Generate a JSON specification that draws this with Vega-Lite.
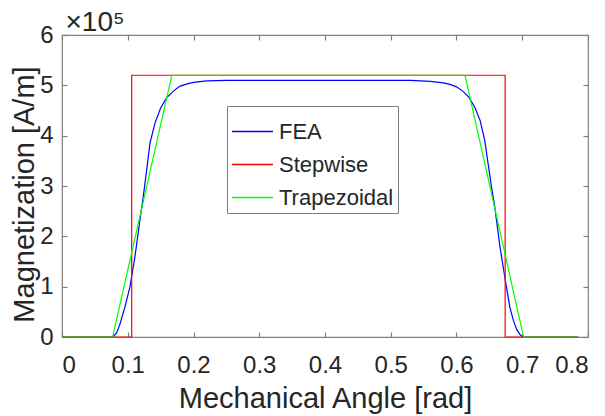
{
  "$schema": "https://vega.github.io/schema/vega-lite/v6.json",
  "width": 526,
  "height": 302,
  "autosize": {"type": "none"},
  "padding": {"left": 62, "top": 35, "right": 17, "bottom": 79},
  "background": "white",
  "config": {
    "view": {"stroke": "#808080", "strokeWidth": 1.2},
    "font": "Liberation Sans",
    "axis": {
      "grid": false,
      "domain": false,
      "labelFont": "Liberation Sans",
      "labelFontSize": 24,
      "labelColor": "#262626",
      "titleFont": "Liberation Sans",
      "titleFontSize": 29,
      "titleFontWeight": "normal",
      "titleColor": "#262626",
      "tickColor": "#808080",
      "tickSize": -5,
      "tickWidth": 1.2
    },
    "legend": {
      "labelFont": "Liberation Sans",
      "labelFontSize": 22,
      "labelColor": "#262626"
    }
  },
  "data": {
    "values": [
      {"series": "FEA", "order": 1, "angle": 0, "magnetization": 0},
      {"series": "FEA", "order": 2, "angle": 0.075, "magnetization": 0},
      {"series": "FEA", "order": 3, "angle": 0.078, "magnetization": 1000},
      {"series": "FEA", "order": 4, "angle": 0.083, "magnetization": 8000},
      {"series": "FEA", "order": 5, "angle": 0.088, "magnetization": 25000},
      {"series": "FEA", "order": 6, "angle": 0.0958, "magnetization": 60000},
      {"series": "FEA", "order": 7, "angle": 0.1034, "magnetization": 100000},
      {"series": "FEA", "order": 8, "angle": 0.111, "magnetization": 160000},
      {"series": "FEA", "order": 9, "angle": 0.1186, "magnetization": 233000},
      {"series": "FEA", "order": 10, "angle": 0.1237, "magnetization": 280000},
      {"series": "FEA", "order": 11, "angle": 0.1288, "magnetization": 332000},
      {"series": "FEA", "order": 12, "angle": 0.1338, "magnetization": 385000},
      {"series": "FEA", "order": 13, "angle": 0.1414, "magnetization": 425000},
      {"series": "FEA", "order": 14, "angle": 0.15, "magnetization": 455000},
      {"series": "FEA", "order": 15, "angle": 0.159, "magnetization": 475000},
      {"series": "FEA", "order": 16, "angle": 0.169, "magnetization": 488000},
      {"series": "FEA", "order": 17, "angle": 0.179, "magnetization": 498000},
      {"series": "FEA", "order": 18, "angle": 0.19, "magnetization": 503000},
      {"series": "FEA", "order": 19, "angle": 0.2, "magnetization": 506000},
      {"series": "FEA", "order": 20, "angle": 0.22, "magnetization": 509000},
      {"series": "FEA", "order": 21, "angle": 0.25, "magnetization": 510000},
      {"series": "FEA", "order": 22, "angle": 0.39, "magnetization": 510000},
      {"series": "FEA", "order": 23, "angle": 0.53, "magnetization": 510000},
      {"series": "FEA", "order": 24, "angle": 0.56, "magnetization": 508000},
      {"series": "FEA", "order": 25, "angle": 0.58, "magnetization": 505000},
      {"series": "FEA", "order": 26, "angle": 0.59, "magnetization": 502000},
      {"series": "FEA", "order": 27, "angle": 0.6, "magnetization": 497000},
      {"series": "FEA", "order": 28, "angle": 0.61, "magnetization": 488000},
      {"series": "FEA", "order": 29, "angle": 0.619, "magnetization": 476000},
      {"series": "FEA", "order": 30, "angle": 0.628, "magnetization": 456000},
      {"series": "FEA", "order": 31, "angle": 0.636, "magnetization": 430000},
      {"series": "FEA", "order": 32, "angle": 0.643, "magnetization": 390000},
      {"series": "FEA", "order": 33, "angle": 0.648, "magnetization": 345000},
      {"series": "FEA", "order": 34, "angle": 0.653, "magnetization": 300000},
      {"series": "FEA", "order": 35, "angle": 0.658, "magnetization": 260000},
      {"series": "FEA", "order": 36, "angle": 0.662, "magnetization": 220000},
      {"series": "FEA", "order": 37, "angle": 0.666, "magnetization": 180000},
      {"series": "FEA", "order": 38, "angle": 0.674, "magnetization": 115000},
      {"series": "FEA", "order": 39, "angle": 0.681, "magnetization": 60000},
      {"series": "FEA", "order": 40, "angle": 0.6865, "magnetization": 33000},
      {"series": "FEA", "order": 41, "angle": 0.6915, "magnetization": 15000},
      {"series": "FEA", "order": 42, "angle": 0.697, "magnetization": 4000},
      {"series": "FEA", "order": 43, "angle": 0.7007, "magnetization": 0},
      {"series": "FEA", "order": 44, "angle": 0.785, "magnetization": 0},
      {"series": "Stepwise", "order": 1, "angle": 0, "magnetization": 0},
      {"series": "Stepwise", "order": 2, "angle": 0.106, "magnetization": 0},
      {"series": "Stepwise", "order": 3, "angle": 0.106, "magnetization": 520000},
      {"series": "Stepwise", "order": 4, "angle": 0.674, "magnetization": 520000},
      {"series": "Stepwise", "order": 5, "angle": 0.674, "magnetization": 0},
      {"series": "Stepwise", "order": 6, "angle": 0.785, "magnetization": 0},
      {"series": "Trapezoidal", "order": 1, "angle": 0, "magnetization": 0},
      {"series": "Trapezoidal", "order": 2, "angle": 0.077, "magnetization": 0},
      {"series": "Trapezoidal", "order": 3, "angle": 0.167, "magnetization": 520000},
      {"series": "Trapezoidal", "order": 4, "angle": 0.613, "magnetization": 520000},
      {"series": "Trapezoidal", "order": 5, "angle": 0.702, "magnetization": 0},
      {"series": "Trapezoidal", "order": 6, "angle": 0.785, "magnetization": 0}
    ]
  },
  "resolve": {"axis": {"x": "independent", "y": "independent"}},
  "layer": [
    {
      "mark": {"type": "line", "strokeWidth": 1.2},
      "encoding": {
        "x": {
          "field": "angle",
          "type": "quantitative",
          "scale": {"domain": [0, 0.8], "nice": false},
          "axis": {
            "orient": "bottom",
            "values": [0, 0.1, 0.2, 0.3, 0.4, 0.5, 0.6, 0.7, 0.8],
            "format": ".1~f",
            "labelPadding": 40,
            "labelBaseline": "alphabetic",
            "title": "Mechanical Angle [rad]",
            "titleBaseline": "alphabetic",
            "titleY": 70
          }
        },
        "y": {
          "field": "magnetization",
          "type": "quantitative",
          "scale": {"domain": [0, 600000], "nice": false},
          "axis": {
            "orient": "left",
            "values": [0, 100000, 200000, 300000, 400000, 500000, 600000],
            "labelExpr": "format(datum.value / 100000, 'd')",
            "labelPadding": 14,
            "title": "Magnetization [A/m]",
            "titleAngle": -90,
            "titleBaseline": "alphabetic",
            "titleAlign": "center",
            "titleX": -29,
            "titleY": 159
          }
        },
        "color": {
          "field": "series",
          "type": "nominal",
          "scale": {
            "domain": ["FEA", "Stepwise", "Trapezoidal"],
            "range": ["#0000ff", "#ff0000", "#00ff00"]
          },
          "legend": {
            "title": null,
            "orient": "none",
            "legendX": 165,
            "legendY": 71,
            "symbolType": "stroke",
            "symbolSize": 1681,
            "symbolStrokeWidth": 1.3,
            "labelOffset": 5,
            "labelExpr": "datum.label + '\u00a0\u00a0\u00a0\u00a0'",
            "rowPadding": 0,
            "padding": 4,
            "strokeColor": "#808080",
            "fillColor": "white"
          }
        },
        "order": {"field": "order", "type": "quantitative"}
      }
    },
    {
      "mark": {"type": "line", "strokeOpacity": 0},
      "encoding": {
        "x": {
          "field": "angle",
          "type": "quantitative",
          "axis": {
            "orient": "top",
            "values": [0, 0.1, 0.2, 0.3, 0.4, 0.5, 0.6, 0.7, 0.8],
            "labels": false,
            "title": "×10⁵",
            "titleFontSize": 28,
            "titleAngle": 0,
            "titleAlign": "left",
            "titleBaseline": "alphabetic",
            "titleX": 3,
            "titleY": -5
          }
        },
        "y": {
          "field": "magnetization",
          "type": "quantitative",
          "axis": {
            "orient": "right",
            "values": [0, 100000, 200000, 300000, 400000, 500000, 600000],
            "labels": false,
            "title": null
          }
        },
        "detail": {"field": "series", "type": "nominal"},
        "order": {"field": "order", "type": "quantitative"}
      }
    }
  ]
}
